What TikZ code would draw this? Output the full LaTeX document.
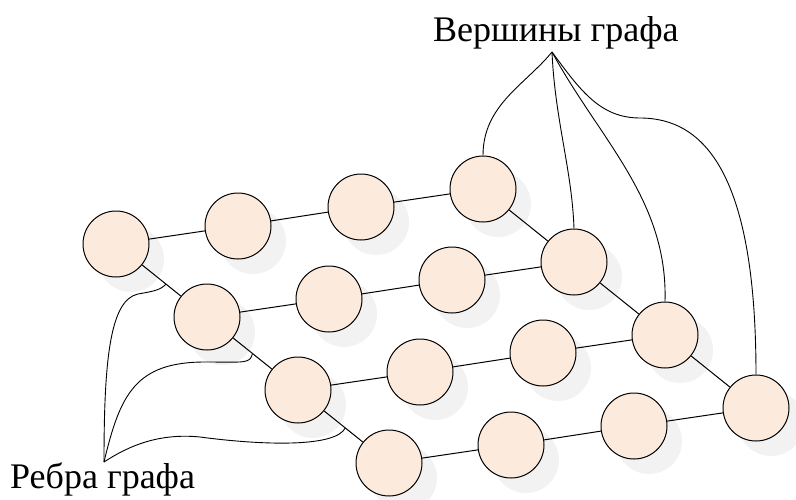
\documentclass[tikz,border=0pt]{standalone}
\usepackage{fontspec}
\setmainfont{Liberation Serif}
\definecolor{vxfill}{HTML}{FCEADC}
\definecolor{vxshade}{HTML}{F2F2F2}
\usetikzlibrary{shadows, calc}

\begin{document}
\begin{tikzpicture}[
  x=1pt, y=-1pt,
  vertex/.style={circle, draw=black, fill=vxfill, line width=1pt,
    minimum size=66pt, inner sep=0pt,
    drop shadow={shadow xshift=15pt, shadow yshift=-15pt,
      fill=vxshade, opacity=1}},
  link/.style={line width=1pt},
  callout/.style={line width=0.9pt},
  lbl/.style={font=\fontsize{36}{40}\selectfont, inner sep=0pt,
    anchor=base west}
]
  \useasboundingbox (0,0) rectangle (796,499);

  % grid of vertices, row by row
  \node[vertex] (v00) at (116,244) {};
  \node[vertex] (v01) at (238,226) {};
  \node[vertex] (v02) at (361,207) {};
  \node[vertex] (v03) at (483,189) {};
  \node[vertex] (v10) at (207,317) {};
  \node[vertex] (v11) at (329,299) {};
  \node[vertex] (v12) at (452,280) {};
  \node[vertex] (v13) at (574,262) {};
  \node[vertex] (v20) at (298,390) {};
  \node[vertex] (v21) at (420,372) {};
  \node[vertex] (v22) at (543,353) {};
  \node[vertex] (v23) at (665,335) {};
  \node[vertex] (v30) at (389,463) {};
  \node[vertex] (v31) at (511,445) {};
  \node[vertex] (v32) at (634,426) {};
  \node[vertex] (v33) at (756,408) {};

  % edges
  \draw[link] (v00) -- (v01) -- (v02) -- (v03);
  \draw[link] (v10) -- (v11) -- (v12) -- (v13);
  \draw[link] (v20) -- (v21) -- (v22) -- (v23);
  \draw[link] (v30) -- (v31) -- (v32) -- (v33);
  \draw[link] (v00) -- (v10) -- (v20) -- (v30);
  \draw[link] (v03) -- (v13) -- (v23) -- (v33);

  % labels
  \node[lbl] (vlabel) at (433,41) {Вершины графа};
  \node[lbl] (elabel) at (10,488) {Ребра графа};
  \coordinate (hubV) at (552,52);
  \coordinate (hubE) at (104,462);

  % callouts to the vertices
  \draw[callout] (hubV) .. controls (525,85) and (483,105) .. (v03.north);
  \draw[callout] (hubV) .. controls (555,120) and (572,170) .. (v13.north);
  \draw[callout] (hubV) .. controls (600,140) and (668,200) .. (v23.north);
  \draw[callout] (hubV) .. controls (580,90) and (600,118) .. (640,118)
    .. controls (705,118) and (756,175) .. (v33.north);

  % callouts to the edges
  \draw[callout] (hubE) .. controls (104,360) and (110,300) .. (138,294)
    .. controls (155,291) and (160,290) .. ($(v00)!0.55!(v10)$);
  \draw[callout] (hubE) .. controls (120,395) and (135,362) .. (205,362)
    .. controls (245,362) and (250,364) .. ($(v10)!0.5!(v20)$);
  \draw[callout] (hubE) .. controls (130,445) and (160,433) .. (200,437)
    .. controls (260,445) and (335,448) .. ($(v20)!0.52!(v30)$);
\end{tikzpicture}
\end{document}
